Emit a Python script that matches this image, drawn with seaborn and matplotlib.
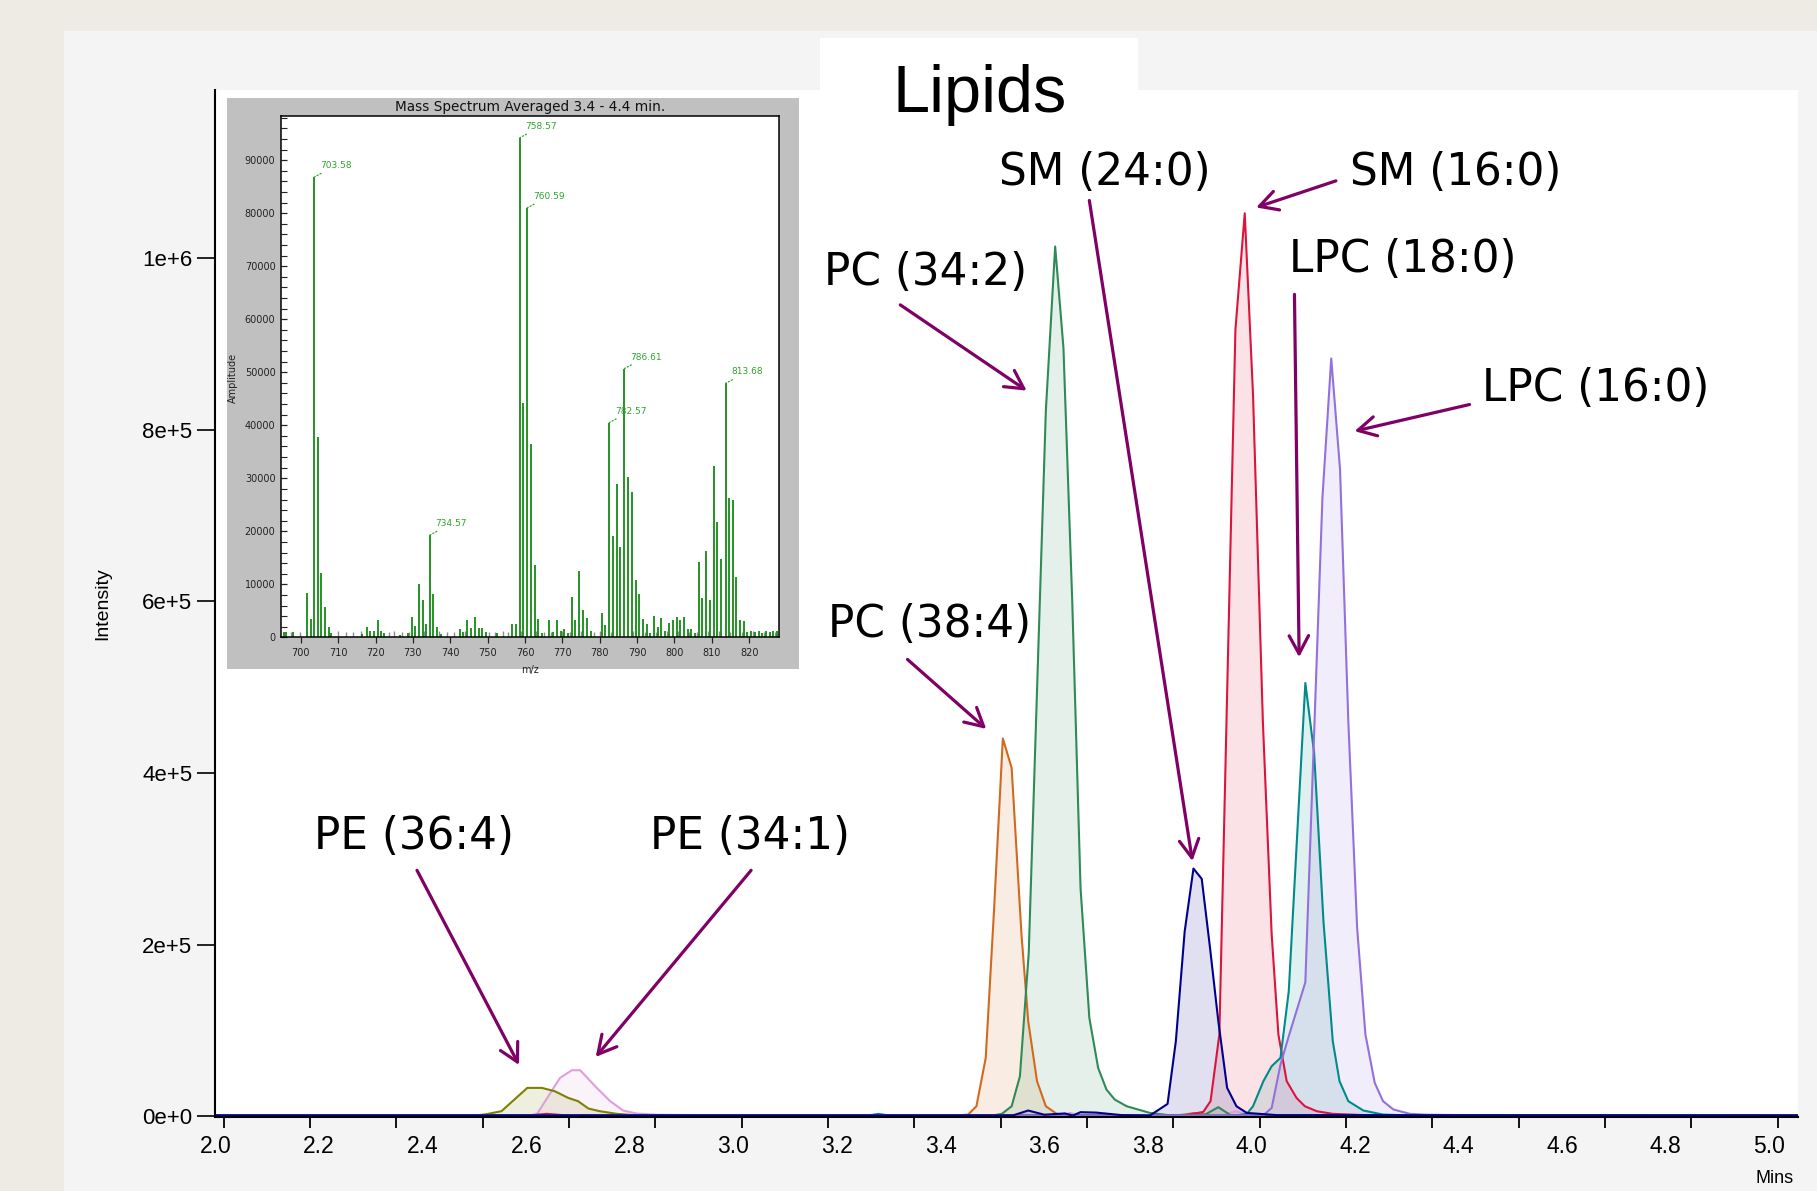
import numpy as np
import pandas as pd
import matplotlib
matplotlib.use("Agg")
import matplotlib.pyplot as plt
import seaborn as sns
from matplotlib.patches import Rectangle
from matplotlib.ticker import FixedLocator

# ---------------- chromatogram data (time in min, intensity) ----------------
pe364_t = [2.00, 2.40, 2.50, 2.520, 2.552, 2.602, 2.630, 2.655, 2.681, 2.700, 2.720, 2.742, 2.775, 2.810, 2.90, 3.50, 4.20, 5.06]
pe364_i = [600, 600, 600, 1800, 5600, 32800, 32800, 28900, 21100, 17300, 8700, 5600, 2500, 1000, 600, 600, 600, 600]

pe341_t = [2.00, 2.60, 2.620, 2.665, 2.688, 2.704, 2.736, 2.762, 2.787, 2.813, 2.85, 3.00, 3.63, 3.65, 3.67, 3.94, 3.97, 4.00, 5.06]
pe341_i = [600, 600, 1700, 44400, 53400, 53400, 32800, 17300, 6400, 2900, 1500, 700, 600, 3500, 600, 600, 5500, 600, 600]

pc384_t = [2.00, 3.43, 3.453, 3.469, 3.487, 3.503, 3.520, 3.537, 3.556, 3.569, 3.586, 3.603, 3.624, 3.66, 3.86, 3.89, 3.92, 5.06]
pc384_i = [600, 600, 1700, 11400, 67800, 240000, 440200, 406000, 211700, 110500, 40600, 11400, 2500, 1000, 800, 3500, 800, 600]

pc342_t = [2.00, 3.50, 3.518, 3.537, 3.553, 3.570, 3.603, 3.621, 3.637, 3.654, 3.670, 3.687, 3.704, 3.720, 3.736, 3.759, 3.804, 3.84, 3.91, 3.936, 3.96, 5.06]
pc342_i = [600, 600, 2500, 11400, 46400, 190000, 822000, 1014000, 896000, 600000, 266000, 114400, 56100, 30900, 19200, 11400, 3600, 1000, 1500, 10300, 800, 600]

sm240_t = [2.00, 3.54, 3.569, 3.60, 3.64, 3.655, 3.67, 3.70, 3.75, 3.804, 3.838, 3.854, 3.871, 3.888, 3.904, 3.920, 3.936, 3.953, 3.971, 3.991, 4.05, 5.06]
sm240_i = [800, 800, 6400, 1500, 3000, 500, 4500, 4000, 1000, 600, 14100, 87200, 215000, 288600, 276500, 196000, 110500, 32800, 11400, 3600, 1000, 800]

sm160_t = [2.00, 2.60, 2.64, 2.68, 3.87, 3.907, 3.921, 3.938, 3.969, 3.987, 4.003, 4.022, 4.039, 4.052, 4.068, 4.087, 4.103, 4.126, 4.157, 4.22, 5.06]
sm160_i = [600, 600, 2500, 600, 600, 4800, 17300, 95000, 917000, 1052700, 841000, 460000, 211700, 95000, 40600, 21100, 11400, 5600, 2500, 1000, 600]

lpc180_t = [2.00, 3.26, 3.28, 3.30, 3.97, 3.991, 4.003, 4.023, 4.039, 4.056, 4.072, 4.104, 4.121, 4.139, 4.157, 4.170, 4.187, 4.216, 4.254, 4.30, 5.06]
lpc180_i = [600, 600, 2500, 600, 600, 2500, 11400, 40600, 58100, 67800, 145500, 505000, 423000, 227000, 87000, 40600, 17300, 6400, 1700, 800, 600]

lpc160_t = [2.00, 4.00, 4.023, 4.039, 4.056, 4.071, 4.104, 4.137, 4.154, 4.171, 4.187, 4.204, 4.220, 4.238, 4.254, 4.274, 4.306, 4.34, 4.45, 5.06]
lpc160_i = [600, 600, 1000, 9400, 60000, 91100, 156000, 721000, 883400, 754000, 460000, 219300, 95000, 38600, 17300, 7600, 2500, 1500, 800, 600]

lipid_names = ["PE (36:4)", "PE (34:1)", "PC (38:4)", "PC (34:2)",
               "SM (24:0)", "SM (16:0)", "LPC (18:0)", "LPC (16:0)"]
lipid_colors = ["#808000", "#dda0dd", "#d2691e", "#2e8b57",
                "#00008b", "#dc143c", "#008b8b", "#9370db"]
series_t = [pe364_t, pe341_t, pc384_t, pc342_t, sm240_t, sm160_t, lpc180_t, lpc160_t]
series_i = [pe364_i, pe341_i, pc384_i, pc342_i, sm240_i, sm160_i, lpc180_i, lpc160_i]
draw_order = ["PE (34:1)", "PE (36:4)", "PC (38:4)", "PC (34:2)",
              "SM (16:0)", "LPC (18:0)", "LPC (16:0)", "SM (24:0)"]

# annotation label positions (x, y in data units) and arrows (tail -> head)
label_x = [2.383, 3.031, 3.378, 3.371, 3.716, 4.395, 4.293, 4.665]
label_y = [325700, 325700, 573000, 983100, 1100000, 1100000, 999300, 848000]
arrow_tail = [(2.389, 286500), (3.034, 286500), (3.336, 532400), (3.322, 945900),
              (3.687, 1067600), (4.163, 1090500), (4.083, 958100), (4.421, 829700)]
arrow_head = [(2.586, 59500), (2.734, 68900), (3.488, 451400), (3.566, 845900),
              (3.886, 297300), (4.009, 1059500), (4.092, 535100), (4.199, 798600)]

x_tick_values = [2.0, 2.2, 2.4, 2.6, 2.8, 3.0, 3.2, 3.4, 3.6, 3.8, 4.0, 4.2, 4.4, 4.6, 4.8, 5.0]
y_tick_values = [0, 200000, 400000, 600000, 800000, 1000000]
y_tick_labels = ["0e+0", "2e+5", "4e+5", "6e+5", "8e+5", "1e+6"]

# ---------------- mass spectrum inset data ----------------
ms_mz = [695.6, 696.1, 698.0, 701.6, 702.6, 703.58, 704.5, 705.5, 706.5, 707.5, 708.2,
         716.5, 717.6, 718.5, 719.5, 720.6, 721.5, 722.2, 726.5, 728.6, 729.7, 730.6,
         731.6, 732.6, 733.5, 734.57, 735.5, 736.5, 737.5, 742.6, 743.4, 744.6, 745.6,
         746.6, 747.6, 748.6, 749.5, 752.5, 756.5, 757.5, 758.57, 759.5, 760.59, 761.5,
         762.6, 763.5, 764.5, 766.5, 767.5, 768.5, 769.6, 770.5, 771.5, 772.5, 773.5,
         774.5, 775.5, 776.5, 777.6, 780.5, 781.5, 782.57, 783.5, 784.5, 785.5, 786.61,
         787.6, 788.6, 789.6, 790.5, 791.5, 792.6, 793.5, 794.5, 795.6, 796.5, 797.5,
         798.6, 799.6, 800.6, 801.6, 802.6, 803.6, 804.5, 805.5, 806.5, 807.5, 808.5,
         809.5, 810.5, 811.5, 812.5, 813.68, 814.6, 815.6, 816.6, 817.6, 818.6, 819.5,
         820.6, 821.5, 822.6, 823.5, 824.6, 825.5, 826.5, 827.5]
ms_amp = [1100, 1100, 1000, 8400, 3500, 86800, 37800, 12100, 5700, 1900, 900,
          600, 1900, 1200, 1200, 3200, 1300, 800, 400, 900, 3900, 2200,
          10100, 7100, 2500, 19300, 8200, 1900, 600, 1600, 1100, 3200, 1800,
          3800, 1800, 1800, 1000, 800, 2600, 2500, 94200, 44200, 81000, 36500,
          13700, 3500, 900, 3300, 1000, 3200, 1300, 1500, 900, 7700, 3300,
          12600, 5200, 3600, 1300, 4600, 2300, 40500, 19200, 29000, 17000, 50700,
          30200, 27500, 10900, 8200, 3500, 2500, 900, 4000, 1900, 3700, 1300,
          2800, 3300, 3800, 3300, 3900, 1600, 1600, 900, 14300, 7500, 16200,
          7000, 32400, 21800, 14700, 47900, 26300, 25900, 11400, 3200, 3100, 1000,
          1300, 1000, 1300, 900, 1200, 1100, 1200, 1300]
bg_mz = [697.5, 699.8, 710.0, 712.0, 714.0, 716.0, 723.5, 725.0, 727.0, 729.0, 733.0,
         737.0, 739.0, 741.0, 744.0, 750.5, 752.0, 754.0, 755.5, 759.0, 763.0, 765.0,
         767.0, 770.0, 772.0, 775.0, 778.5, 780.0, 783.0, 789.0, 792.0, 795.0, 798.0,
         801.0, 804.0, 806.0, 809.0, 812.0, 815.0, 818.0, 821.0, 824.0, 827.0]
bg_amp = [1100, 1000, 1200, 1100, 1000, 1300, 1100, 1200, 1000, 1100, 1300,
          1200, 1000, 1100, 1200, 1000, 1100, 1200, 1000, 1300, 1200, 1100,
          1000, 1200, 1100, 1300, 1000, 1200, 1100, 1200, 1000, 1100, 1300,
          1200, 1100, 1000, 1200, 1300, 1100, 1000, 1200, 1100, 1000]
ms_labels = ["703.58", "734.57", "758.57", "760.59", "782.57", "786.61", "813.68"]
ms_xticks = [700, 710, 720, 730, 740, 750, 760, 770, 780, 790, 800, 810, 820]
ms_yticks = [0, 10000, 20000, 30000, 40000, 50000, 60000, 70000, 80000, 90000]

# ---------------- styling ----------------
sns.set_style("ticks")
plt.rcParams["font.family"] = ["DejaVu Sans"]
plt.rcParams["text.color"] = "black"
plt.rcParams["axes.labelcolor"] = "black"
plt.rcParams["xtick.color"] = "black"
plt.rcParams["ytick.color"] = "black"
ARROW = "#800066"
TICKFONT = "Liberation Sans"

fig = plt.figure(figsize=(18.17, 11.91), dpi=100)
fig.patch.set_facecolor("#eeebe4")
fig.add_artist(Rectangle((64 / 1817, 0), 1 - 64 / 1817, 1 - 31 / 1191,
                         transform=fig.transFigure, facecolor="#f4f4f4",
                         edgecolor="none", zorder=-5))

ax = fig.add_axes([0.1186, 0.0621, 0.8712, 0.8620])
ax.set_facecolor("white")

rows = []
for name, ts, vs in zip(lipid_names, series_t, series_i):
    for t, v in zip(ts, vs):
        rows.append((name, t, v))
df = pd.DataFrame(rows, columns=["lipid", "time", "intensity"])
palette = dict(zip(lipid_names, lipid_colors))

for name in draw_order:
    sub = df[df["lipid"] == name]
    ax.fill_between(sub["time"], 0, sub["intensity"], color=palette[name],
                    alpha=0.12, linewidth=0, zorder=1)
sns.lineplot(data=df, x="time", y="intensity", hue="lipid", hue_order=draw_order,
             palette=palette, estimator=None, sort=False, legend=False,
             linewidth=1.5, ax=ax, zorder=2)

ax.set_xlim(2.0, 5.056)
ax.set_ylim(-1200, 1196000)
for s in ["top", "right"]:
    ax.spines[s].set_visible(False)
for s in ["left", "bottom"]:
    ax.spines[s].set_color("black")
    ax.spines[s].set_linewidth(1.5)

ax.set_xticks(x_tick_values)
ax.set_xticklabels([f"{v:.1f}" for v in x_tick_values])
ax.xaxis.set_minor_locator(FixedLocator([2.0, 3.0, 4.0, 5.0] + [2.0156 + k / 6 for k in range(19)]))
ax.tick_params(axis="x", which="major", length=0, pad=13, labelsize=16.5, colors="black")
ax.tick_params(axis="x", which="minor", length=7.7, width=1.3, direction="out", color="black")
ax.set_yticks(y_tick_values)
ax.set_yticklabels(y_tick_labels)
ax.tick_params(axis="y", which="major", length=13, width=1.2, pad=3.6, labelsize=16,
               direction="out", colors="black")
for lbl in ax.get_xticklabels() + ax.get_yticklabels():
    lbl.set_fontfamily(TICKFONT)
    lbl.set_color("black")

ax.set_ylabel("Intensity", fontsize=14, family=TICKFONT, color="black")
ax.yaxis.set_label_coords(-0.066, 0.5)
ax.set_xlabel("Mins", fontsize=13, family=TICKFONT, color="black")
ax.xaxis.set_label_coords(0.985, -0.052)

for name, lx, ly in zip(lipid_names, label_x, label_y):
    ax.text(lx, ly, name, ha="center", va="center", fontsize=31.5, color="black", zorder=6)
for tail, head in zip(arrow_tail, arrow_head):
    ax.annotate("", xy=head, xytext=tail,
                arrowprops=dict(arrowstyle="->,head_length=0.65,head_width=0.35",
                                color=ARROW, lw=2.3, mutation_scale=20,
                                shrinkA=0, shrinkB=0), zorder=6)

# title box
fig.add_artist(Rectangle((820 / 1817, 1 - 92 / 1191), 318 / 1817, 54 / 1191,
                         transform=fig.transFigure, facecolor="white",
                         edgecolor="none", zorder=1))
fig.text(980 / 1817, 1 - 111.7 / 1191, "Lipids", ha="center", va="baseline",
         fontsize=48, family=TICKFONT, color="black", zorder=7)

# ---------------- inset ----------------
fig.add_artist(Rectangle((226.8 / 1817, 1 - 669.4 / 1191), 571.8 / 1817, 571.8 / 1191,
                         transform=fig.transFigure, facecolor="#c0c0c0",
                         edgecolor="none", zorder=2))
axi = fig.add_axes([281 / 1817, 1 - 637.4 / 1191, 498.4 / 1817, 521.8 / 1191])
axi.set_zorder(3)
axi.set_facecolor("white")
axi.vlines(bg_mz, 0, bg_amp, color="#8c8c8c", lw=1.0)
axi.vlines(ms_mz, 0, ms_amp, color="#008000", lw=1.2)
axi.set_xlim(694.7, 828.1)
axi.set_ylim(0, 98400)
for s in axi.spines.values():
    s.set_color("black")
    s.set_linewidth(1.1)
axi.set_xticks(ms_xticks)
axi.set_xticklabels([str(v) for v in ms_xticks])
axi.set_yticks(ms_yticks)
axi.set_yticklabels([str(v) for v in ms_yticks])
axi.yaxis.set_minor_locator(FixedLocator(list(range(0, 98001, 2000))))
axi.tick_params(axis="x", which="major", direction="out", length=4.6, width=0.9,
                labelsize=7, pad=3, colors="#222222")
axi.tick_params(axis="y", which="major", direction="in", length=4.5, width=0.9,
                labelsize=7, pad=4, colors="#222222")
axi.tick_params(axis="y", which="minor", direction="in", length=4.5, width=0.8, color="#222222")
axi.set_title("Mass Spectrum Averaged 3.4 - 4.4 min.", fontsize=9.8, pad=3, color="#111111")
axi.set_xlabel("m/z", fontsize=7, color="#222222")
axi.xaxis.set_label_coords(0.4988, -0.0527)
axi.set_ylabel("Amplitude", fontsize=7, color="#222222")
axi.yaxis.set_label_coords(-0.087, 0.4975)
for lab in ms_labels:
    mz = float(lab)
    amp = ms_amp[ms_mz.index(mz)]
    axi.annotate(lab, xy=(mz, amp), xytext=(4, 5), textcoords="offset points",
                 ha="left", va="bottom", fontsize=6.5, color="#2fa52f",
                 arrowprops=dict(arrowstyle="-", linestyle=":", lw=0.9, color="#2fa52f",
                                 shrinkA=0, shrinkB=0))

fig.savefig("out.png", dpi=100, facecolor=fig.get_facecolor())
